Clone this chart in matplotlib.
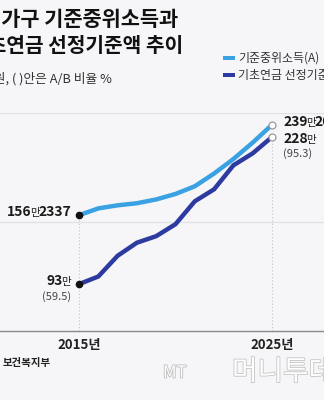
import matplotlib
matplotlib.use("Agg")
import matplotlib.pyplot as plt
from matplotlib.offsetbox import TextArea, HPacker, AnnotationBbox
import matplotlib.patheffects as pe

plt.rcParams['font.family'] = ['Noto Sans CJK KR', 'DejaVu Sans']

years = [2015, 2016, 2017, 2018, 2019, 2020, 2021, 2022, 2023, 2024, 2025]
median_income = [156.2337, 162.4831, 165.2931, 167.2105, 170.7008, 175.7194,
                 182.7831, 194.4812, 207.7892, 222.8445, 239.2013]
pension_criteria = [93, 100, 119, 131, 137, 148, 169, 180, 202, 213, 228]
series_names = ['기준중위소득(A)', '기초연금 선정기준액(B)']
ratio_labels = ['(59.5)', '(95.3)']
gridlines = [150, 250]

c_light = '#3aa2e2'
c_dark = '#2d3a9f'
bg = '#f6f6f8'

fig = plt.figure(figsize=(3.24, 4.0), dpi=100, facecolor=bg)
W, H = 324, 400
ax = fig.add_axes([0, (H - 331) / H, 1, (331 - 113) / H], facecolor=bg)
px_per_year = (272 - 79) / 10
ax.set_xlim(2015 - 79 / px_per_year, 2025 + (W - 272) / px_per_year)
ax.set_ylim(50, 250)
for s in ['top', 'left', 'right']:
    ax.spines[s].set_visible(False)
ax.spines['bottom'].set_color('#8a8a8a')
ax.spines['bottom'].set_linewidth(1.0)
ax.set_xticks([])
ax.set_yticks([])

for g in gridlines:
    ax.axhline(g, color='#e2e2e4', lw=1.0, zorder=0)

ax.plot([years[0], years[0]], [50, median_income[0]], color='#c4c4c4', ls=(0, (1, 2)), lw=0.8, zorder=1)
ax.plot([years[-1], years[-1]], [50, pension_criteria[-1]], color='#c4c4c4', ls=(0, (1, 2)), lw=0.8, zorder=1)

ax.plot(years, median_income, color=c_light, lw=3.2, solid_capstyle='round', solid_joinstyle='round', zorder=3)
ax.plot(years, pension_criteria, color=c_dark, lw=3.2, solid_capstyle='round', solid_joinstyle='round', zorder=3)

ax.plot([years[0]] * 2, [median_income[0], pension_criteria[0]], 'o', ms=4.5, color='#111', ls='none', zorder=4)
ax.plot([years[-1]] * 2, [median_income[-1], pension_criteria[-1]], 'o', ms=5, mfc='white', mec='#999', mew=0.9, ls='none', zorder=4)


def fx(x):
    return x / W


def fy(y):
    return 1 - y / H


def mixed(parts, xy, box_align):
    areas = []
    for txt, size, weight, color in parts:
        areas.append(TextArea(txt, textprops=dict(fontsize=size, fontweight=weight, color=color)))
    pack = HPacker(children=areas, align='baseline', pad=0, sep=-1)
    ab = AnnotationBbox(pack, xy, xycoords='figure fraction', box_alignment=box_align,
                        frameon=False, pad=0, annotation_clip=False)
    fig.add_artist(ab)


num = 10
small = 7.5
dark_txt = '#1a1a1a'
mixed([('156', num, 'bold', dark_txt), ('만', small, 'normal', dark_txt), ('2337', num, 'bold', dark_txt)],
      (fx(71), fy(212)), (1, 0.5))
mixed([('93', num, 'bold', dark_txt), ('만', small, 'normal', dark_txt)], (fx(71), fy(281)), (1, 0.5))
fig.text(fx(71), fy(297), ratio_labels[0], fontsize=8, color='#444', ha='right', va='center')

mixed([('239', num, 'bold', dark_txt), ('만', small, 'normal', dark_txt), ('2013', num, 'bold', dark_txt)],
      (fx(283), fy(122)), (0, 0.5))
mixed([('228', num, 'bold', dark_txt), ('만', small, 'normal', dark_txt)], (fx(283), fy(139)), (0, 0.5))
fig.text(fx(283), fy(154), ratio_labels[1], fontsize=8, color='#444', ha='left', va='center')

# title
fig.text(fx(178), fy(19), '1인 가구 기준중위소득과', fontsize=15, fontweight='bold', color='#111', ha='right', va='center')
fig.text(fx(183), fy(45), '기초연금 선정기준액 추이', fontsize=14.6, fontweight='bold', color='#111', ha='right', va='center')
fig.text(fx(112), fy(79), '단위: 원, ( )안은 A/B 비율 %', fontsize=9.2, color='#333', ha='right', va='center')

# legend
for i, (name, col) in enumerate(zip(series_names, [c_light, c_dark])):
    y = 58 + i * 17
    fig.patches.append(plt.Rectangle((fx(223), fy(y + 2)), 12 / W, 4 / H, transform=fig.transFigure,
                                     facecolor=col, edgecolor='none'))
    fig.text(fx(238), fy(y), name, fontsize=8.6, color='#333', ha='left', va='center')

# x labels
fig.text(fx(79), fy(345), '2015년', fontsize=9.5, fontweight='bold', color='#222', ha='center', va='center')
fig.text(fx(272), fy(345), '2025년', fontsize=9.5, fontweight='bold', color='#222', ha='center', va='center')
fig.text(fx(3), fy(363), '보건복지부', fontsize=7.5, fontweight='bold', color='#222', ha='left', va='center')

# watermark
fig.text(fx(163), fy(373), 'MT', fontsize=12, style='italic', color='white', ha='left', va='center',
         path_effects=[pe.withStroke(linewidth=1.2, foreground='#bdbdbd')])
fig.text(fx(232), fy(372), '머니투데이', fontsize=20, color='white', ha='left', va='center',
         path_effects=[pe.withStroke(linewidth=1.2, foreground='#c4c4c4')])

fig.savefig('out.png', dpi=100, facecolor=bg)
